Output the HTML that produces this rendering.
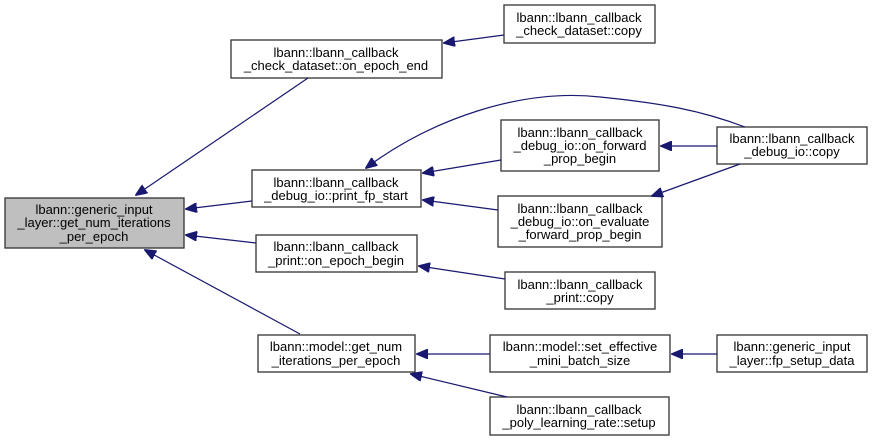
<!DOCTYPE html>
<html><head><meta charset="utf-8"><style>
html,body{margin:0;padding:0;background:#fff;}
svg{display:block}
text{font-family:"Liberation Sans",sans-serif;font-size:13px;fill:#000;text-anchor:middle}
rect{stroke:#333;stroke-width:1.3}
.e{stroke:#191970;stroke-width:1.2;fill:none;marker-end:url(#a)}
</style></head><body>
<svg width="873" height="441" viewBox="0 0 873 441">
<defs><marker id="a" markerWidth="12" markerHeight="10" refX="11" refY="5" orient="auto" markerUnits="userSpaceOnUse"><path d="M0,0 L12,5 L0,10 z" fill="#191970" stroke="#191970"/></marker></defs>
<rect x="5" y="198" width="179" height="50" fill="#bfbfbf"/>
<text x="94" y="214">lbann::generic_input</text><text x="94" y="227">_layer::get_num_iterations</text><text x="94" y="241">_per_epoch</text>
<rect x="231" y="40" width="211" height="38" fill="#fff"/>
<text x="336" y="57">lbann::lbann_callback</text><text x="336" y="70">_check_dataset::on_epoch_end</text>
<rect x="504" y="5" width="151" height="38" fill="#fff"/>
<text x="579" y="22">lbann::lbann_callback</text><text x="579" y="35">_check_dataset::copy</text>
<rect x="252" y="170" width="169" height="37" fill="#fff"/>
<text x="336" y="187">lbann::lbann_callback</text><text x="336" y="200">_debug_io::print_fp_start</text>
<rect x="501" y="120" width="158" height="51" fill="#fff"/>
<text x="580" y="137">lbann::lbann_callback</text><text x="580" y="150">_debug_io::on_forward</text><text x="580" y="163">_prop_begin</text>
<rect x="717" y="127" width="150" height="37" fill="#fff"/>
<text x="792" y="143">lbann::lbann_callback</text><text x="792" y="156">_debug_io::copy</text>
<rect x="498" y="196" width="164" height="51" fill="#fff"/>
<text x="580" y="213">lbann::lbann_callback</text><text x="580" y="226">_debug_io::on_evaluate</text><text x="580" y="239">_forward_prop_begin</text>
<rect x="256" y="235" width="161" height="37" fill="#fff"/>
<text x="336" y="251">lbann::lbann_callback</text><text x="336" y="265">_print::on_epoch_begin</text>
<rect x="505" y="272" width="150" height="37" fill="#fff"/>
<text x="580" y="289">lbann::lbann_callback</text><text x="580" y="302">_print::copy</text>
<rect x="258" y="335" width="157" height="37" fill="#fff"/>
<text x="336" y="351">lbann::model::get_num</text><text x="336" y="365">_iterations_per_epoch</text>
<rect x="490" y="335" width="180" height="37" fill="#fff"/>
<text x="580" y="351">lbann::model::set_effective</text><text x="580" y="365">_mini_batch_size</text>
<rect x="717" y="335" width="150" height="37" fill="#fff"/>
<text x="792" y="351">lbann::generic_input</text><text x="792" y="365">_layer::fp_setup_data</text>
<rect x="490" y="397" width="179" height="38" fill="#fff"/>
<text x="579" y="414">lbann::lbann_callback</text><text x="579" y="427">_poly_learning_rate::setup</text>
<path class="e" d="M308,78 L136,195"/>
<path class="e" d="M252,201 L186,209"/>
<path class="e" d="M256,243 L186,235"/>
<path class="e" d="M300,334 L145,250"/>
<path class="e" d="M504,35 L444,43"/>
<path class="e" d="M745,127 C700,110 660,103 600,97 C520,88 430,120 366,168"/>
<path class="e" d="M501,160 L423,173"/>
<path class="e" d="M498,210 L423,200"/>
<path class="e" d="M717,146 L661,146"/>
<path class="e" d="M740,164 L652,196"/>
<path class="e" d="M505,279 L419,266"/>
<path class="e" d="M490,354 L417,354"/>
<path class="e" d="M507,397 L411,374"/>
<path class="e" d="M717,354 L672,354"/>
</svg>
</body></html>
